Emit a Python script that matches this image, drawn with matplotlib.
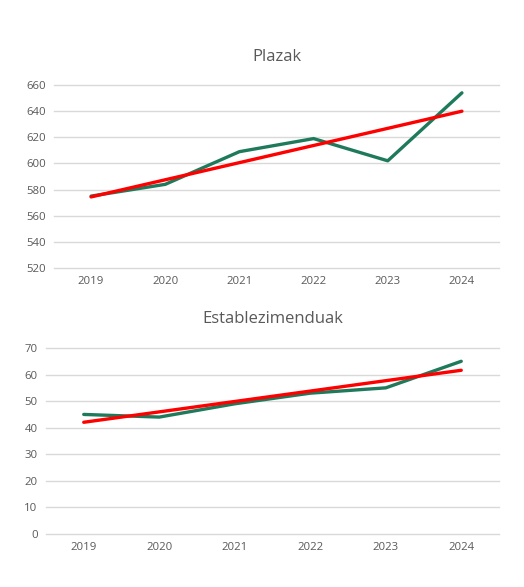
import numpy as np
import matplotlib
matplotlib.use("Agg")
import matplotlib.pyplot as plt

years = ["2019", "2020", "2021", "2022", "2023", "2024"]
plazak = [575, 584, 609, 619, 602, 654]
establezimenduak = [45, 44, 49, 53, 55, 65]

GREEN = "#1F7A5C"
RED = "#FF0000"
GRID = "#D9D9D9"
TEXT = "#595959"
FONT = ["Open Sans", "DejaVu Sans"]

W, H = 524, 587
fig = plt.figure(figsize=(W / 100, H / 100), dpi=100)


def panel(rect, title, values, ylim, step, title_y):
    l, b, r, t = rect
    ax = fig.add_axes([l / W, 1 - b / H, (r - l) / W, (b - t) / H])
    x = np.arange(len(years))
    ax.plot(x, values, color=GREEN, lw=2.4, solid_capstyle="round", zorder=3)
    coef = np.polyfit(x, values, 1)
    ax.plot(x, np.polyval(coef, x), color=RED, lw=2.4, solid_capstyle="round", zorder=4)
    ax.set_xlim(-0.5, len(years) - 0.5)
    ax.set_ylim(*ylim)
    ax.set_yticks(np.arange(ylim[0], ylim[1] + 1, step))
    ax.set_xticks(x)
    ax.set_xticklabels(years)
    for s in ax.spines.values():
        s.set_visible(False)
    ax.grid(axis="y", color=GRID, lw=1.0)
    for gl in ax.get_ygridlines():
        gl.set_clip_on(False)
    ax.set_axisbelow(True)
    ax.tick_params(length=0, colors=TEXT, labelsize=8.2, pad=6)
    for lab in ax.get_xticklabels() + ax.get_yticklabels():
        lab.set_fontfamily(FONT)
    fig.text((l + r) / 2 / W, 1 - title_y / H, title, ha="center", va="center",
             fontsize=12, color=TEXT, family=FONT)
    return ax


ax1 = panel((54, 268, 499, 85), "Plazak", plazak, (520, 660), 20, 57)
ax2 = panel((46, 534, 499, 348), "Establezimenduak", establezimenduak, (0, 70), 10, 319)

fig.savefig("out.png", dpi=100, facecolor="white")
